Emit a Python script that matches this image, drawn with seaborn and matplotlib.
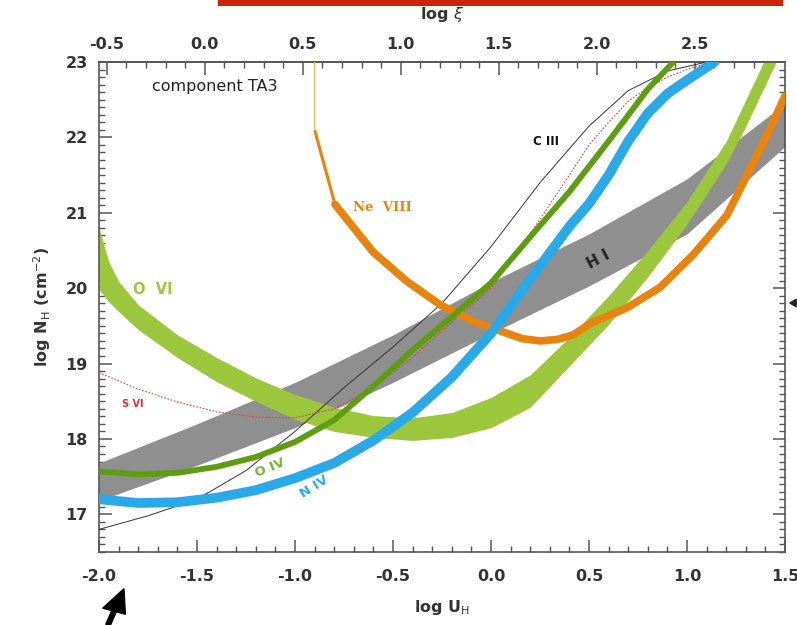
import matplotlib
matplotlib.use("Agg")
import matplotlib.pyplot as plt
import seaborn as sns
from matplotlib.ticker import MultipleLocator, FixedLocator, FormatStrFormatter
from matplotlib.patches import Rectangle, FancyArrow

# --- curves (log U_H vs log N_H) ---
# H I: grey band
hi_u = [-2.0, -1.5, -1.0, -0.5, 0.0, 0.5, 1.0, 1.5]
hi_top = [17.68, 18.20, 18.75, 19.38, 20.08, 20.72, 21.45, 22.45]
hi_bot = [17.18, 17.65, 18.15, 18.75, 19.40, 20.03, 20.72, 21.88]

# O VI: light green band
ovi_u = [-2.00, -1.95, -1.90, -1.80, -1.60, -1.40, -1.20, -1.00, -0.80, -0.60,
         -0.40, -0.20, 0.00, 0.20, 0.40, 0.60, 0.80, 1.00, 1.20, 1.30, 1.40, 1.50]
ovi_top = [20.80, 20.35, 20.09, 19.78, 19.38, 19.08, 18.81, 18.59, 18.42, 18.31,
           18.28, 18.35, 18.55, 18.85, 19.35, 19.90, 20.50, 21.15, 21.95, 22.50, 23.05, 23.60]
ovi_bot = [19.98, 19.82, 19.69, 19.45, 19.08, 18.76, 18.50, 18.26, 18.10, 18.02,
           17.98, 18.02, 18.15, 18.42, 18.97, 19.52, 20.15, 20.85, 21.65, 22.15, 22.70, 23.25]

# N IV: blue
niv_u = [-2.0, -1.8, -1.6, -1.4, -1.2, -1.0, -0.8, -0.6, -0.4, -0.2, 0.0,
         0.2, 0.4, 0.5, 0.6, 0.7, 0.8, 0.9, 1.0, 1.14]
niv_n = [17.20, 17.15, 17.16, 17.22, 17.32, 17.48, 17.68, 17.98, 18.35, 18.82, 19.40,
         20.12, 20.82, 21.12, 21.50, 21.95, 22.32, 22.58, 22.76, 23.00]

# O IV: dark green
oiv_u = [-2.0, -1.8, -1.6, -1.4, -1.2, -1.0, -0.8, -0.6, -0.4, -0.2, 0.0,
         0.2, 0.4, 0.6, 0.8, 0.93]
oiv_n = [17.57, 17.53, 17.55, 17.63, 17.76, 17.96, 18.25, 18.70, 19.18, 19.62, 20.07,
         20.68, 21.28, 21.95, 22.64, 23.00]

# S VI: red dotted
svi_u = [-2.0, -1.8, -1.6, -1.4, -1.2, -1.0, -0.8, -0.6, -0.4, -0.2, 0.0,
         0.2, 0.4, 0.5, 0.6, 0.7, 0.8, 0.9, 1.0, 1.12]
svi_n = [18.88, 18.66, 18.49, 18.36, 18.29, 18.28, 18.40, 18.68, 19.08, 19.55, 20.00,
         20.72, 21.50, 21.90, 22.20, 22.48, 22.66, 22.80, 22.90, 23.00]

# C III: thin black
ciii_u = [-2.0, -1.75, -1.5, -1.25, -1.0, -0.75, -0.5, -0.25, 0.0,
          0.25, 0.5, 0.7, 0.9, 1.1]
ciii_n = [16.80, 16.98, 17.20, 17.58, 18.10, 18.68, 19.22, 19.80, 20.55,
          21.40, 22.15, 22.62, 22.88, 23.00]

# Ne VIII: orange (thin top part, then thick)
ne_thin_u = [-0.903, -0.903]
ne_thin_n = [23.05, 22.13]
ne_mid_u = [-0.898, -0.796]
ne_mid_n = [22.08, 21.11]
ne_u = [-0.796, -0.602, -0.429, -0.26, -0.092, 0.082, 0.16, 0.25, 0.34, 0.418, 0.52,
        0.694, 0.862, 1.03, 1.204, 1.306, 1.408, 1.50]
ne_n = [21.11, 20.48, 20.09, 19.78, 19.56, 19.40, 19.33, 19.30, 19.32, 19.38, 19.55,
        19.74, 20.01, 20.44, 20.97, 21.50, 22.03, 22.55]

XI_OFFSET = 1.46  # log xi = log U + offset
xi_ticks = [-0.5, 0.0, 0.5, 1.0, 1.5, 2.0, 2.5]

sns.set_theme(style="ticks")
plt.rcParams["font.family"] = ["DejaVu Sans"]
plt.rcParams["axes.unicode_minus"] = False

fig = plt.figure(figsize=(7.97, 6.25), dpi=100)
ax = fig.add_axes([0.1242, 0.1168, 0.8608, 0.784])

c_ovi = "#9cc63c"
c_oiv = "#5e9e0e"
c_niv = "#2aa9e8"
c_ne = "#e8830e"
c_txt = "#333333"

ax.fill_between(hi_u, hi_bot, hi_top, color="#8f8f8f", lw=0, zorder=1)
ax.fill_between(ovi_u, ovi_bot, ovi_top, color=c_ovi, lw=0, zorder=2)

sns.lineplot(x=ciii_u, y=ciii_n, ax=ax, color="#333333", lw=0.7, sort=False,
             estimator=None, zorder=3)
sns.lineplot(x=svi_u, y=svi_n, ax=ax, color="#e04040", lw=0.8, ls=(0, (1.5, 1.5)),
             sort=False, estimator=None, zorder=3)
sns.lineplot(x=ne_thin_u, y=ne_thin_n, ax=ax, color="#f2b866", lw=1.0, sort=False,
             estimator=None, zorder=4)
sns.lineplot(x=ne_mid_u, y=ne_mid_n, ax=ax, color=c_ne, lw=2.2, sort=False,
             estimator=None, zorder=4)
sns.lineplot(x=ne_u, y=ne_n, ax=ax, color=c_ne, lw=5.5, sort=False,
             estimator=None, zorder=4)
sns.lineplot(x=oiv_u, y=oiv_n, ax=ax, color=c_oiv, lw=4.2, sort=False,
             estimator=None, zorder=5)
sns.lineplot(x=niv_u, y=niv_n, ax=ax, color=c_niv, lw=7, sort=False,
             estimator=None, zorder=6)

ax.set_xlim(-2.0, 1.5)
ax.set_ylim(16.5, 23.0)

# labels on the curves
ax.text(-1.41, 22.68, "component TA3", fontsize=11.5, color="#222222", ha="center", va="center")
ax.text(-0.556, 21.07, "Ne  VIII", fontsize=9.5, color=c_ne, ha="center", va="center",
        family="DejaVu Serif", fontweight="bold")
ax.text(-1.724, 19.98, "O  VI", fontsize=10.5, color=c_ovi, ha="center", va="center",
        fontweight="bold")
ax.text(-1.827, 18.46, "S VI", fontsize=7, color="#e03030", ha="center", va="center",
        fontweight="bold")
ax.text(-1.125, 17.62, "O IV", fontsize=9.5, color="#78b330", ha="center", va="center",
        fontweight="bold", rotation=22, zorder=7)
ax.text(-0.90, 17.36, "N IV", fontsize=9.5, color=c_niv, ha="center", va="center",
        fontweight="bold", rotation=32, zorder=7)
ax.text(0.546, 20.38, "H I", fontsize=11, color="#222222", ha="center", va="center",
        fontweight="bold", rotation=28, zorder=7)
ax.text(0.281, 21.94, "C III", fontsize=8.5, color="#111111", ha="center", va="center",
        fontweight="bold")

# axes styling
for s in ax.spines.values():
    s.set_linewidth(1.2)
    s.set_color("#555555")
ax.xaxis.set_major_locator(MultipleLocator(0.5))
ax.xaxis.set_minor_locator(MultipleLocator(0.1))
ax.yaxis.set_major_locator(MultipleLocator(1))
ax.yaxis.set_minor_locator(MultipleLocator(0.1))
ax.tick_params(which="both", direction="in", bottom=True, top=False, left=True, right=True,
               color="#555555")
ax.tick_params(which="major", length=9, width=1.1, labelsize=11.5, pad=12,
               labelcolor=c_txt)
ax.tick_params(which="minor", length=4.5, width=1.0)
ax.xaxis.set_major_formatter(FormatStrFormatter("%.1f"))
ax.tick_params(axis="y", labelright=False, pad=8)
for lab in ax.get_xticklabels() + ax.get_yticklabels():
    lab.set_fontweight("bold")

top = ax.secondary_xaxis("top", functions=(lambda u: u + XI_OFFSET, lambda xi: xi - XI_OFFSET))
top.xaxis.set_major_locator(FixedLocator(xi_ticks))
top.xaxis.set_minor_locator(MultipleLocator(0.1))
top.xaxis.set_major_formatter(FormatStrFormatter("%.1f"))
top.tick_params(which="both", direction="in", color="#555555")
top.tick_params(which="major", length=9, width=1.1, labelsize=11.5, pad=7,
                labelcolor=c_txt)
top.tick_params(which="minor", length=4.5, width=1.0)
for lab in top.get_xticklabels():
    lab.set_fontweight("bold")
top.spines["top"].set_linewidth(1.2)
top.spines["top"].set_color("#555555")
top.set_xlabel(r"log $\xi$", fontsize=11.5, labelpad=13, color=c_txt, fontweight="bold")

ax.set_xlabel(r"log U$_\mathrm{H}$", fontsize=11.5, labelpad=10, color=c_txt,
              fontweight="bold")
ax.set_ylabel(r"log N$_\mathrm{H}$ (cm$^{-2}$)", fontsize=11.5, labelpad=9, color=c_txt,
              fontweight="bold")

# screenshot artefacts: red bar at top and black arrows
fig.add_artist(Rectangle((218 / 797, 1 - 6 / 625), (783 - 218) / 797, 6 / 625,
                         transform=fig.transFigure, color="#c8250a", lw=0))
fig.add_artist(FancyArrow(108 / 797, 0.0, 0.02, 0.058, width=0.006, head_width=0.03,
                          head_length=0.038, length_includes_head=True,
                          transform=fig.transFigure, color="black"))
fig.add_artist(FancyArrow(1.0, 1 - 303 / 625, -0.009, 0.0, width=0.002, head_width=0.012,
                          head_length=0.008, length_includes_head=True,
                          transform=fig.transFigure, color="#222222"))

fig.savefig("out.png", dpi=100)
